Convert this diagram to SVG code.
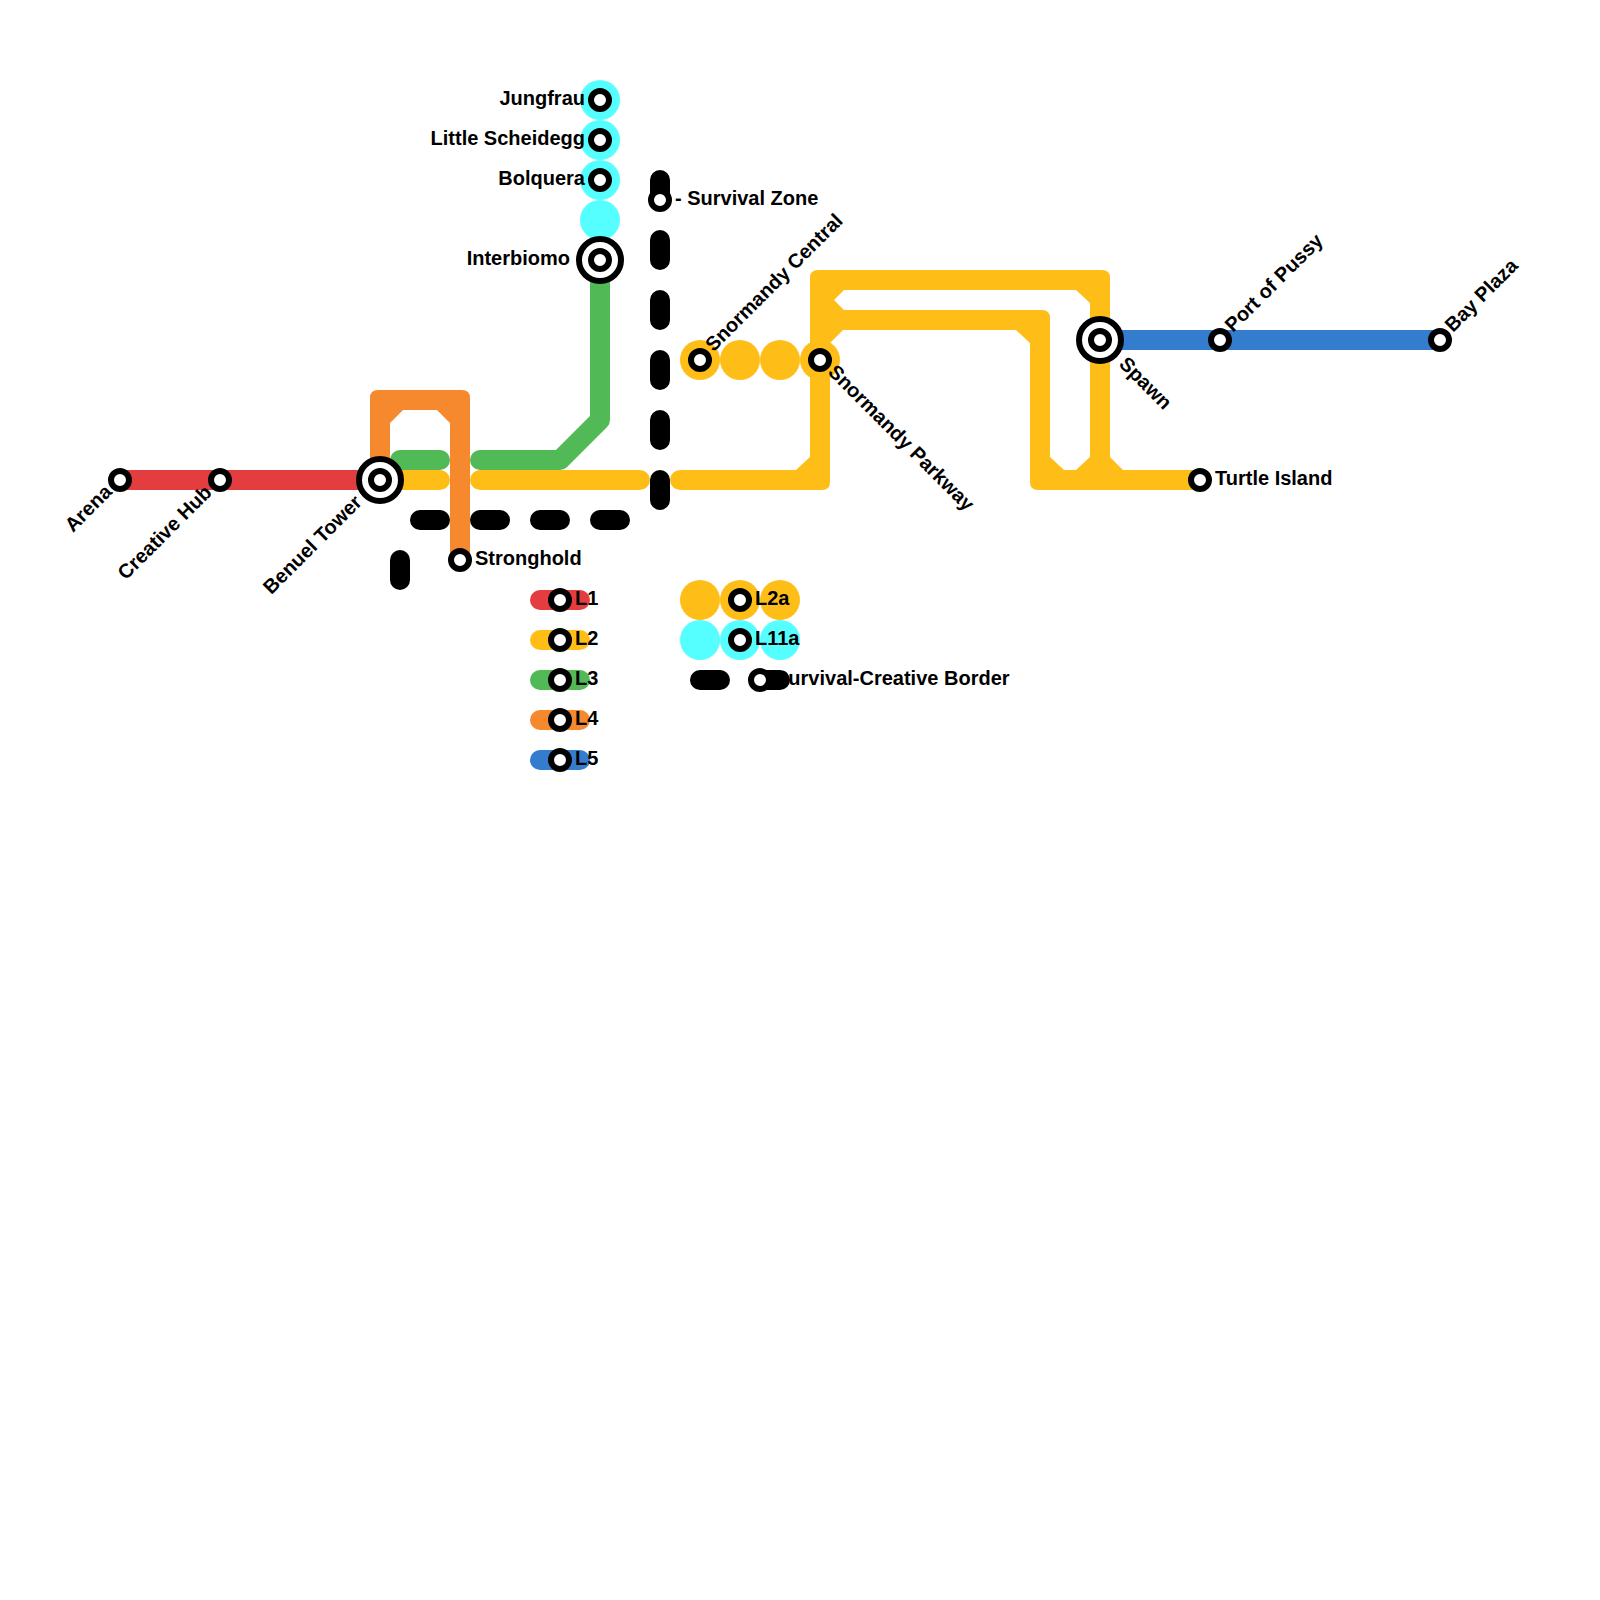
<svg xmlns="http://www.w3.org/2000/svg" width="1600" height="1600" viewBox="0 0 1600 1600">
<defs><style>
.l{fill:none;stroke-width:20;stroke-linecap:round;stroke-linejoin:round}
.r{stroke:#e43d40}.y{stroke:#ffbe17}.g{stroke:#52b957}.o{stroke:#f6882d}.b{stroke:#347ccd}.k{stroke:#000}
.fy{fill:#ffbe17}.fo{fill:#f6882d}.fc{fill:#55ffff}
.s{fill:#fff;stroke:#000;stroke-width:6}
.i{fill:#fff;stroke:#000;stroke-width:6}
text{font-family:"Liberation Sans",Arial,sans-serif;font-weight:bold;font-size:20px;fill:#000}
.e{text-anchor:end}
</style></defs>
<rect width="1600" height="1600" fill="#fff"/>
<g id="spots">
<circle class="fc" cx="600" cy="100" r="20"/><circle class="fc" cx="600" cy="140" r="20"/><circle class="fc" cx="600" cy="180" r="20"/><circle class="fc" cx="600" cy="220" r="20"/>
<circle class="fy" cx="700" cy="360" r="20"/><circle class="fy" cx="740" cy="360" r="20"/><circle class="fy" cx="780" cy="360" r="20"/><circle class="fy" cx="820" cy="360" r="20"/>
<circle class="fy" cx="700" cy="600" r="20"/><circle class="fy" cx="740" cy="600" r="20"/><circle class="fy" cx="780" cy="600" r="20"/>
<circle class="fc" cx="700" cy="640" r="20"/><circle class="fc" cx="740" cy="640" r="20"/><circle class="fc" cx="780" cy="640" r="20"/>
</g>
<g id="connectors">
<path class="l r" d="M120 480H380"/>
<path class="l b" d="M1100 340H1440"/>
<path class="l g" d="M400 460H440"/>
<path class="l g" d="M480 460H560L600 420V260"/>
<path class="l y" d="M380 480H440"/>
<path class="l y" d="M480 480H640"/>
<path class="fy" d="M680 470H796L810 457V278Q810 270 818 270H1102Q1110 270 1110 278V457L1123 470H1200V490H1038Q1030 490 1030 482V343L1016 330H843L830 343V482Q830 490 822 490H680A10 10 0 0 1 680 470ZM834 300L844 310H1042Q1050 310 1050 318V457L1064 470H1076L1090 457V303L1076 290H844Z"/>
<path class="fo" d="M370 470V398Q370 390 378 390H462Q470 390 470 398V560H450V423L437 410H403L390 423V470Z"/>
<path class="l k" d="M660 180V200M660 240V260M660 300V320M660 360V380M660 420V440M660 480V500"/>
<path class="l k" d="M420 520H440M480 520H500M540 520H560M600 520H620"/>
<path class="l k" d="M400 560V580"/>
<path class="l r" d="M540 600H580"/>
<path class="l y" d="M540 640H580"/>
<path class="l g" d="M540 680H580"/>
<path class="l o" d="M540 720H580"/>
<path class="l b" d="M540 760H580"/>
<path class="l k" d="M700 680H720M760 680H780"/>
</g>
<g id="arena"><circle class="s" cx="120" cy="480" r="9"/><text class="e" transform="translate(113 493) rotate(-45)">Arena</text></g>
<g id="creative-hub"><circle class="s" cx="220" cy="480" r="9"/><text class="e" transform="translate(213 493.500) rotate(-45)">Creative Hub</text></g>
<g id="benuel-tower"><circle class="i" cx="380" cy="480" r="21"/><circle class="s" cx="380" cy="480" r="9"/><text class="e" transform="translate(363 503.500) rotate(-45)">Benuel Tower</text></g>
<g id="stronghold"><circle class="s" cx="460" cy="560" r="9"/><text x="475" y="565">Stronghold</text></g>
<g id="jungfrau"><circle class="s" cx="600" cy="100" r="9"/><text class="e" x="585" y="105">Jungfrau</text></g>
<g id="little-scheidegg"><circle class="s" cx="600" cy="140" r="9"/><text class="e" x="585" y="145">Little Scheidegg</text></g>
<g id="bolquera"><circle class="s" cx="600" cy="180" r="9"/><text class="e" x="585" y="185">Bolquera</text></g>
<g id="interbiomo"><circle class="i" cx="600" cy="260" r="21"/><circle class="s" cx="600" cy="260" r="9"/><text class="e" x="570" y="265">Interbiomo</text></g>
<g id="survival-zone"><circle class="s" cx="660" cy="200" r="9"/><text x="675" y="205">- Survival Zone</text></g>
<g id="snormandy-central"><circle class="s" cx="700" cy="360" r="9"/><text transform="translate(713.500 352.500) rotate(-45)">Snormandy Central</text></g>
<g id="snormandy-parkway"><circle class="s" cx="820" cy="360" r="9"/><text transform="translate(827 373) rotate(45)">Snormandy Parkway</text></g>
<g id="spawn"><circle class="i" cx="1100" cy="340" r="21"/><circle class="s" cx="1100" cy="340" r="9"/><text transform="translate(1118 365) rotate(45)">Spawn</text></g>
<g id="port-of-pussy"><circle class="s" cx="1220" cy="340" r="9"/><text transform="translate(1233 333) rotate(-45)">Port of Pussy</text></g>
<g id="bay-plaza"><circle class="s" cx="1440" cy="340" r="9"/><text transform="translate(1453 333) rotate(-45)">Bay Plaza</text></g>
<g id="turtle-island"><circle class="s" cx="1200" cy="480" r="9"/><text x="1215" y="485">Turtle Island</text></g>
<g id="legend-l1"><circle class="s" cx="560" cy="600" r="9"/><text x="575" y="605">L1</text></g>
<g id="legend-l2"><circle class="s" cx="560" cy="640" r="9"/><text x="575" y="645">L2</text></g>
<g id="legend-l3"><circle class="s" cx="560" cy="680" r="9"/><text x="575" y="685">L3</text></g>
<g id="legend-l4"><circle class="s" cx="560" cy="720" r="9"/><text x="575" y="725">L4</text></g>
<g id="legend-l5"><circle class="s" cx="560" cy="760" r="9"/><text x="575" y="765">L5</text></g>
<g id="legend-l2a"><circle class="s" cx="740" cy="600" r="9"/><text x="755" y="605">L2a</text></g>
<g id="legend-l11a"><circle class="s" cx="740" cy="640" r="9"/><text x="755" y="645">L11a</text></g>
<g id="legend-border"><circle class="s" cx="760" cy="680" r="9"/><text x="775" y="685">Survival-Creative Border</text></g>
</svg>
